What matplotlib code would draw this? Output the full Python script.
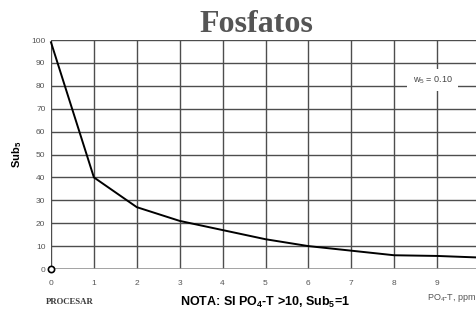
import matplotlib
matplotlib.use("Agg")
import matplotlib.pyplot as plt

# Data
x_vals = [0, 1, 2, 3, 4, 5, 6, 7, 8, 9, 10]
sub_vals = [99, 40, 27, 21, 17, 13, 10, 8, 6, 5.7, 5]
x_ticks = [0, 1, 2, 3, 4, 5, 6, 7, 8, 9]
y_ticks = [0, 10, 20, 30, 40, 50, 60, 70, 80, 90, 100]
title = "Fosfatos"
weight_label = "w$_5$ = 0.10"

plt.rcParams['font.family'] = ['Liberation Sans', 'DejaVu Sans']
plt.rcParams['mathtext.fontset'] = 'custom'
plt.rcParams['mathtext.rm'] = 'Liberation Sans'
plt.rcParams['mathtext.bf'] = 'Liberation Sans:bold'

fig = plt.figure(figsize=(4.76, 3.12), dpi=100)
ax = fig.add_axes([51/476, 1-269/312, 429/476, 229/312])

ax.set_xlim(0, 10)
ax.set_ylim(0, 100)
ax.set_xticks(x_ticks)
ax.set_yticks(y_ticks)
ax.grid(True, color='#4d4d4d', linewidth=1.0)
ax.set_axisbelow(True)
for s in ax.spines.values():
    s.set_visible(False)
ax.axhline(0, color='#9a9a9a', linewidth=1.2, zorder=1.5)
ax.tick_params(length=0, labelsize=6, labelcolor='#555555')
ax.tick_params(axis='x', pad=8)
ax.tick_params(axis='y', pad=4)

ax.plot(x_vals, sub_vals, color='black', linewidth=1.4, clip_on=False, zorder=3)
ax.plot([0], [0], marker='o', markersize=4.5, markerfacecolor='white',
        markeredgecolor='black', markeredgewidth=1.2, clip_on=False, zorder=4)

ax.text(8.9, 82.5, weight_label, ha='center', va='center', fontsize=6.5,
        color='#444444', zorder=5,
        bbox=dict(boxstyle='square,pad=0.6', facecolor='white', edgecolor='none'))

fig.text(256/476, 1-32/312, title, ha='center', va='baseline', fontsize=23,
         fontweight='bold', family='Liberation Serif', color='#555555')

fig.text(17.5/476, 1-154/312, 'Sub$_\\mathbf{5}$', rotation=90, ha='center', va='center',
         fontsize=8, fontweight='bold', color='black')

fig.text(70/476, 1-302/312, 'PROCESAR', ha='center', va='center', fontsize=6.3,
         fontweight='bold', family='Liberation Serif', color='#3a3a3a')

fig.text(265/476, 1-302/312, 'NOTA: SI PO$_\\mathbf{4}$-T >10, Sub$_\\mathbf{5}$=1',
         ha='center', va='center', fontsize=9, fontweight='bold', color='black')

fig.text(476/476, 1-298/312, 'PO$_4$-T, ppm', ha='right', va='center', fontsize=6.5,
         color='#555555')

fig.savefig('out.png', dpi=100)
